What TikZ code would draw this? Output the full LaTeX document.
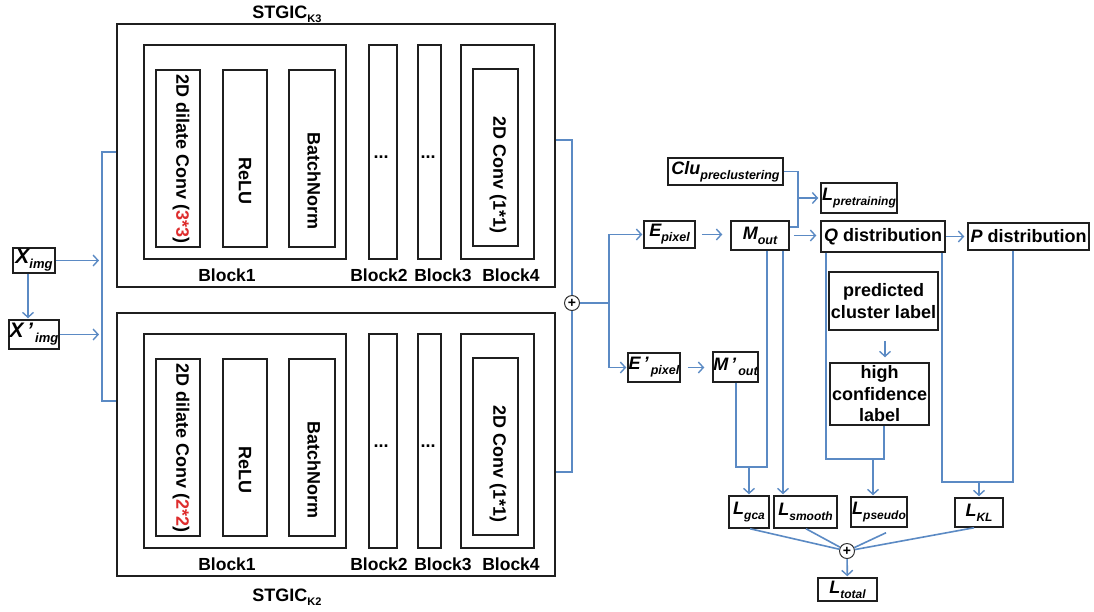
\documentclass[tikz,border=0pt]{standalone}
\usepackage{fontspec}
\setmainfont{Liberation Sans}
\usetikzlibrary{arrows.meta,calc}
\definecolor{lineblue}{RGB}{91,138,196}
\definecolor{convred}{RGB}{222,45,45}
\tikzset{
  box/.style={draw=black!88, line width=1.5pt, inner sep=0pt, rectangle},
  conn/.style={draw=lineblue, line width=1.6pt},
  arr/.style={conn, -{Straight Barb[length=5pt,width=11pt,line width=1.4pt]}},
  txt/.style={font=\bfseries\fontsize{18}{21.5}\selectfont, inner sep=0pt, align=center},
  blab/.style={font=\bfseries\fontsize{17.5}{17.5}\selectfont, inner sep=0pt},
  plus/.style={circle, draw=black!80, line width=1pt, fill=white, minimum size=15pt, inner sep=0pt, font=\bfseries\fontsize{14}{14}\selectfont},
}
\newcommand\mybox[7][]{%
  \pgfmathsetmacro\bxcx{(#3+#5)/2}%
  \pgfmathsetmacro\bxcy{(#4+#6)/2}%
  \pgfmathsetmacro\bxww{#5-#3}%
  \pgfmathsetmacro\bxhh{#6-#4}%
  \node[box,minimum width=\bxww pt,minimum height=\bxhh pt,#1] (#2) at (\bxcx,\bxcy) {#7};}
\newcommand\var[4]{{\bfseries\itshape\fontsize{#3}{#3}\selectfont #1}\raisebox{-5pt}{\bfseries\itshape\fontsize{#4}{#4}\selectfont #2}}
\newcommand\stgic[3]{%
  \begin{scope}[yshift=-#2pt]
    \mybox{#1outer}{117}{24}{555}{287}{}
    \mybox{#1bone}{144}{45}{346}{259}{}
    \mybox{#1conv}{156}{70}{200}{247}{}
    \mybox{#1relu}{223}{70}{267}{247}{}
    \mybox{#1bn}{289}{70}{335}{247}{}
    \mybox{#1btwo}{369}{45}{397}{259}{}
    \mybox{#1bthree}{418}{45}{441}{259}{}
    \mybox{#1bfour}{461}{45}{534}{259}{}
    \mybox{#1cone}{473}{69}{518}{246}{}
    \node[txt, rotate=-90] (#1convt) at (181,159) {2D dilate Conv (\textcolor{convred}{#3})};
    \node[txt, rotate=-90] (#1relut) at (245,181) {ReLU};
    \node[txt, rotate=-90] (#1bnt) at (314,181) {BatchNorm};
    \node[txt, rotate=-90] (#1conet) at (498,175) {2D Conv (1*1)};
    \node[txt] (#1dotsa) at (381,157) {...};
    \node[txt] (#1dotsb) at (428,157) {...};
    \node[blab] (#1lone) at (227,275) {Block1};
    \node[blab] (#1ltwo) at (379,275) {Block2};
    \node[blab] (#1lthree) at (443,275) {Block3};
    \node[blab] (#1lfour) at (511,275) {Block4};
  \end{scope}}
\begin{document}
\begin{tikzpicture}[x=1pt,y=-1pt]
\useasboundingbox (0,0) rectangle (1094,611);
\fill[white] (0,0) rectangle (1094,611);

% STGIC blocks
\stgic{T}{0}{3*3}
\stgic{B}{289}{2*2}
\node[inner sep=0pt, font=\bfseries] (stgicT) at (287,14) {{\fontsize{18}{18}\selectfont STGIC}\raisebox{-4pt}{\fontsize{11}{11}\selectfont K3}};
\node[inner sep=0pt, font=\bfseries] (stgicB) at (287,597) {{\fontsize{18}{18}\selectfont STGIC}\raisebox{-4pt}{\fontsize{11}{11}\selectfont K2}};

% inputs
\mybox{Ximg}{13}{248}{55}{273}{\var{X}{img}{21}{13}}
\mybox{Xpimg}{9}{320}{59}{349}{\var{X\,'}{\,img}{21}{13}}

% right part boxes
\mybox{Epix}{644}{221}{695}{248}{\var{E}{pixel}{18}{12.5}}
\mybox{Epp}{628}{353}{680}{382}{\var{E\,'}{\,pixel}{18}{12.5}}
\mybox{Mout}{731}{221}{789}{250}{\var{M}{out}{18}{12.5}}
\mybox{Mpout}{713}{352}{758}{382}{\var{M\,'}{\,out}{18}{12.5}}
\mybox{Clu}{668}{158}{783}{185}{\var{Clu}{preclustering}{18}{12.5}}
\mybox{Lpre}{821}{183}{897}{213}{\var{L}{pretraining}{18}{12}}
\mybox{Q}{821}{221}{945}{252}{\bfseries\fontsize{18}{18}\selectfont\textit{Q} distribution}
\mybox{P}{968}{223}{1089}{250}{\bfseries\fontsize{18}{18}\selectfont\textit{P} distribution}
\mybox[txt]{Pred}{829}{272}{938}{330}{predicted\\cluster label}
\mybox[txt]{High}{830}{363}{929}{425}{high\\confidence\\label}
\mybox{Lgca}{729}{496}{769}{528}{\var{L}{gca}{18}{12}}
\mybox{Lsmooth}{774}{496}{837}{528}{\var{L}{smooth}{18}{12}}
\mybox{Lpseudo}{851}{497}{907}{527}{\var{L}{pseudo}{18}{12}}
\mybox{LKL}{955}{498}{1003}{527}{\var{L}{KL}{18}{12}}
\mybox{Ltotal}{818}{578}{877}{601}{\var{L}{total}{18}{12}}

% left connectors
\coordinate (brT) at (102,152);
\coordinate (brB) at (102,401);
\draw[conn] (Touter.west |- brT) -- (brT) -- (brB) -- (Bouter.west |- brB);
\draw[arr, shorten >=3pt] (Ximg.east) -- (Ximg.east -| brT);
\draw[arr, shorten >=3pt] (Xpimg.east) -- (Xpimg.east -| brT);
\coordinate (xv) at (28,300);
\draw[arr, shorten >=1pt] (Ximg.south -| xv) -- (Xpimg.north -| xv);

% merge of the two branches
\node[plus] (sumA) at (572,303) {+};
\coordinate (tout) at (572,140);
\coordinate (bout) at (572,472);
\draw[conn] (Touter.east |- tout) -- (tout) -- (sumA.north);
\draw[conn] (Bouter.east |- bout) -- (bout) -- (sumA.south);
\coordinate (split) at (609,303);
\draw[conn] (sumA.east) -- (split);
\draw[arr, shorten >=1pt] (split) |- (Epix.west);
\draw[arr, shorten >=1pt] (split) |- (Epp.west);

\draw[arr, shorten <=6pt, shorten >=8pt] (Epix.east) -- (Epix.east -| Mout.west);
\draw[arr, shorten <=7pt, shorten >=8pt] (Epp.east) -- (Epp.east -| Mpout.west);
\draw[arr, shorten <=4pt, shorten >=4pt] (Mout.east) -- (Mout.east -| Q.west);
\draw[arr, shorten >=3pt] (Q.east) -- (Q.east -| P.west);

% preclustering
\coordinate (cjt) at (798,227);
\coordinate (cj) at (798,198);
\draw[conn] (Clu.east) -| (cjt) -- (cjt -| Mout.east);
\draw[arr, shorten >=2pt] (cj) -- (cj -| Lpre.west);

% predicted -> high confidence
\draw[arr, shorten <=10pt, shorten >=5pt] ([xshift=1.5pt]Pred.south) -- ([xshift=1.5pt]Pred.south |- High.north);

% M branches to losses
\coordinate (mg) at (767,467);
\coordinate (mpg) at (736,467);
\coordinate (gj) at (749,467);
\draw[conn] (Mout.south -| mg) -- (mg) -- (mpg) -- (Mpout.south -| mpg);
\draw[arr, shorten >=1pt] (gj) -- (Lgca.north -| gj);
\coordinate (ms) at (783,300);
\draw[arr, shorten >=1pt] (Mout.south -| ms) -- (Lsmooth.north -| ms);

% Q branches
\coordinate (ql) at (826,459);
\coordinate (hc) at (884,459);
\coordinate (pj) at (873,459);
\draw[conn] (Q.south -| ql) -- (ql) -- (hc) -- (High.south -| hc);
\draw[arr, shorten >=1pt] (pj) -- (Lpseudo.north -| pj);
\coordinate (qr) at (942,482);
\coordinate (pr) at (1013,482);
\coordinate (kj) at (979,482);
\draw[conn] (Q.south -| qr) -- (qr) -- (pr) -- (P.south -| pr);
\draw[arr, shorten >=1pt] (kj) -- (LKL.north -| kj);

% total loss
\node[plus] (sumB) at (847,551) {+};
\draw[conn] ([xshift=1pt]Lgca.south) -- (sumB);
\draw[conn] ([xshift=0.5pt]Lsmooth.south) -- (sumB);
\draw[conn] ([xshift=7pt,yshift=-5pt]Lpseudo.south) -- (sumB);
\draw[conn] ([xshift=-5pt]LKL.south) -- (sumB);
\draw[arr, shorten >=1pt] (sumB) -- (Ltotal);
\end{tikzpicture}
\end{document}
